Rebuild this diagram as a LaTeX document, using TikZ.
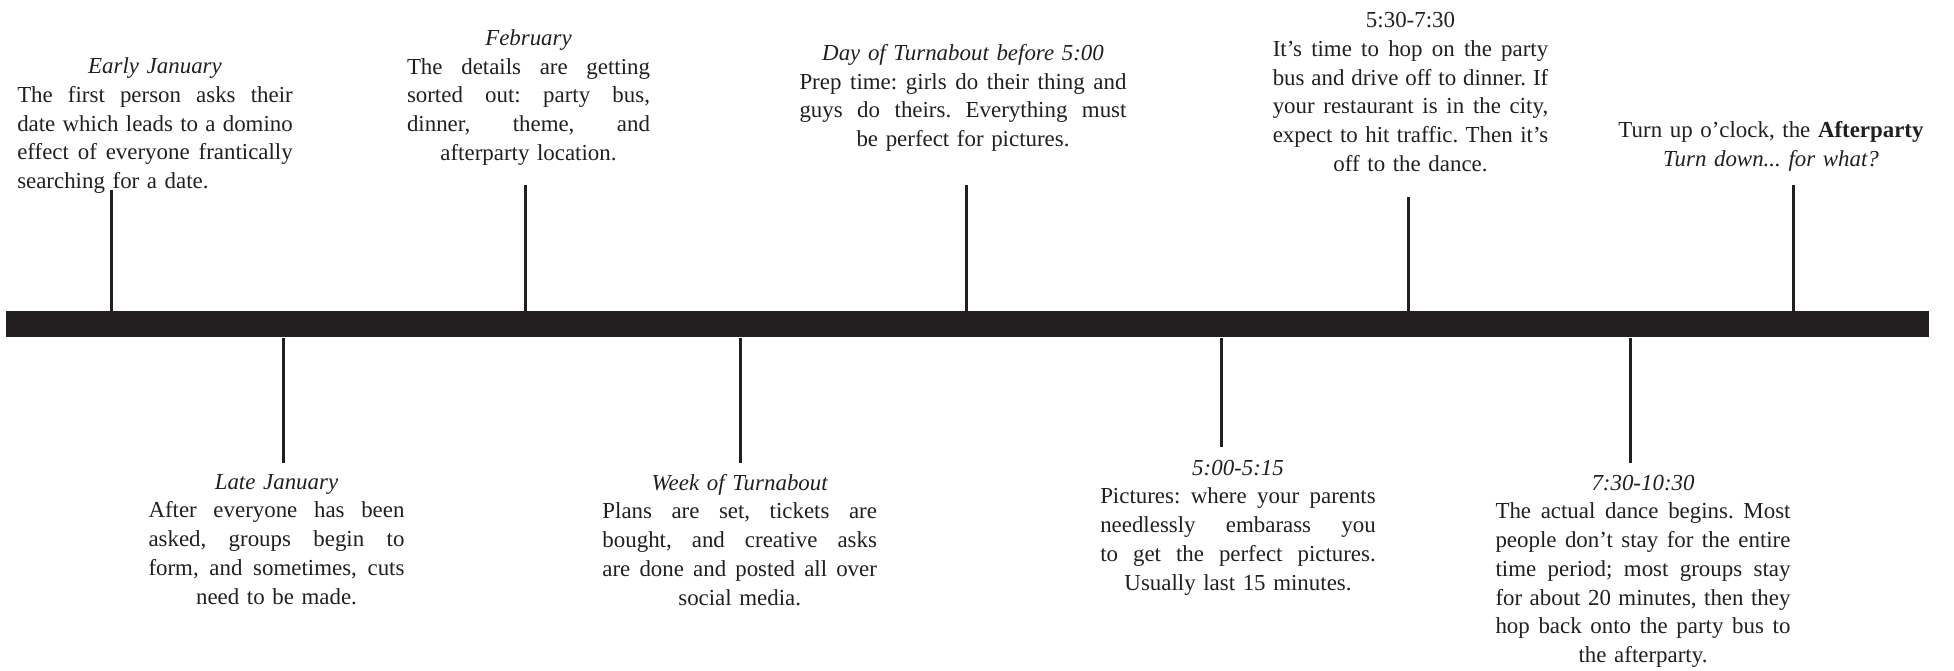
\documentclass[tikz,border=0pt]{standalone}
\usepackage{fontspec}
\setmainfont{Liberation Serif}
\definecolor{ink}{HTML}{231F20}
\newlength{\bw}
\newcommand{\jl}[1]{\parbox[b]{\bw}{\spaceskip=0pt\relax\xspaceskip=0pt\relax\parfillskip=0pt\relax\hbadness=10000\relax\hyphenpenalty=10000\relax\emergencystretch=0pt\relax #1}}
\newcommand{\cl}[1]{\makebox[\bw][c]{#1}}
\newcommand{\lline}[1]{\makebox[\bw][l]{#1}}
\tikzset{
  blk/.style={anchor=base, inner sep=0pt, text width=#1, align=center,
    font=\fontsize{11.45pt}{14.375pt}\selectfont\frenchspacing, text=ink,
    execute at begin node={\setlength{\bw}{#1}}},
  tickline/.style={draw=ink, line width=1.5pt},
}
\begin{document}
\begin{tikzpicture}[x=0.5pt,y=-0.5pt]
\fill[white] (0,0) rectangle (1954,670);
\useasboundingbox (0,0) rectangle (1954,670);

% tick ends
\coordinate (k1) at (111,190);
\coordinate (k2) at (283,463);
\coordinate (k3) at (525,185);
\coordinate (k4) at (740,463);
\coordinate (k5) at (966,185);
\coordinate (k6) at (1221,447);
\coordinate (k7) at (1408,197);
\coordinate (k8) at (1630,463);
\coordinate (k9) at (1793,185);

% bar
\node (bar) [fill=ink, inner sep=0pt, minimum width=961.5pt, minimum height=13pt, anchor=north west] at (6,311) {};

\draw[tickline] (k1) -- (k1 |- bar.north);
\draw[tickline] (k3) -- (k3 |- bar.north);
\draw[tickline] (k5) -- (k5 |- bar.north);
\draw[tickline] (k7) -- (k7 |- bar.north);
\draw[tickline] (k9) -- (k9 |- bar.north);
\draw[tickline] (bar.south -| k2) -- (k2);
\draw[tickline] (bar.south -| k4) -- (k4);
\draw[tickline] (bar.south -| k6) -- (k6);
\draw[tickline] (bar.south -| k8) -- (k8);

% texts above
\node[blk=137.75pt] (ej) at (155,73.7) {\cl{\itshape Early January}\\
\jl{The first person asks their}\\
\jl{date which leads to a domino}\\
\jl{effect of everyone frantically}\\
\lline{searching for a date.}};

\node[blk=121.5pt] (feb) at (528.5,45.3) {\cl{\itshape February}\\
\jl{The details are getting}\\
\jl{sorted out: party bus,}\\
\jl{dinner, theme, and}\\
\cl{afterparty location.}};

\node[blk=163.5pt] (day) at (963,60.3) {\cl{\itshape Day of Turnabout before 5:00}\\
\jl{Prep time: girls do their thing and}\\
\jl{guys do theirs. Everything must}\\
\cl{be perfect for pictures.}};

\node[blk=137.75pt] (t530) at (1410.5,27.7) {\cl{5:30-7:30}\\
\jl{It’s time to hop on the party}\\
\jl{bus and drive off to dinner. If}\\
\jl{your restaurant is in the city,}\\
\jl{expect to hit traffic. Then it’s}\\
\cl{off to the dance.}};

\node[blk=156pt] (aft) at (1771,137.7) {\cl{Turn up o’clock, the \textbf{Afterparty}}\\
\cl{\itshape Turn down... for what?}};

% texts below
\node[blk=128pt] (lj) at (276.5,489) {\cl{\itshape Late January}\\
\jl{After everyone has been}\\
\jl{asked, groups begin to}\\
\jl{form, and sometimes, cuts}\\
\cl{need to be made.}};

\node[blk=137.25pt] (wk) at (739.7,490) {\cl{\itshape Week of Turnabout}\\
\jl{Plans are set, tickets are}\\
\jl{bought, and creative asks}\\
\jl{are done and posted all over}\\
\cl{social media.}};

\node[blk=137.75pt] (t500) at (1238,475) {\cl{\itshape 5:00-5:15}\\
\jl{Pictures: where your parents}\\
\jl{needlessly embarass you}\\
\jl{to get the perfect pictures.}\\
\cl{Usually last 15 minutes.}};

\node[blk=147.5pt] (t730) at (1643,490) {\cl{\itshape 7:30-10:30}\\
\jl{The actual dance begins. Most}\\
\jl{people don’t stay for the entire}\\
\jl{time period; most groups stay}\\
\jl{for about 20 minutes, then they}\\
\jl{hop back onto the party bus to}\\
\cl{the afterparty.}};
\end{tikzpicture}
\end{document}
